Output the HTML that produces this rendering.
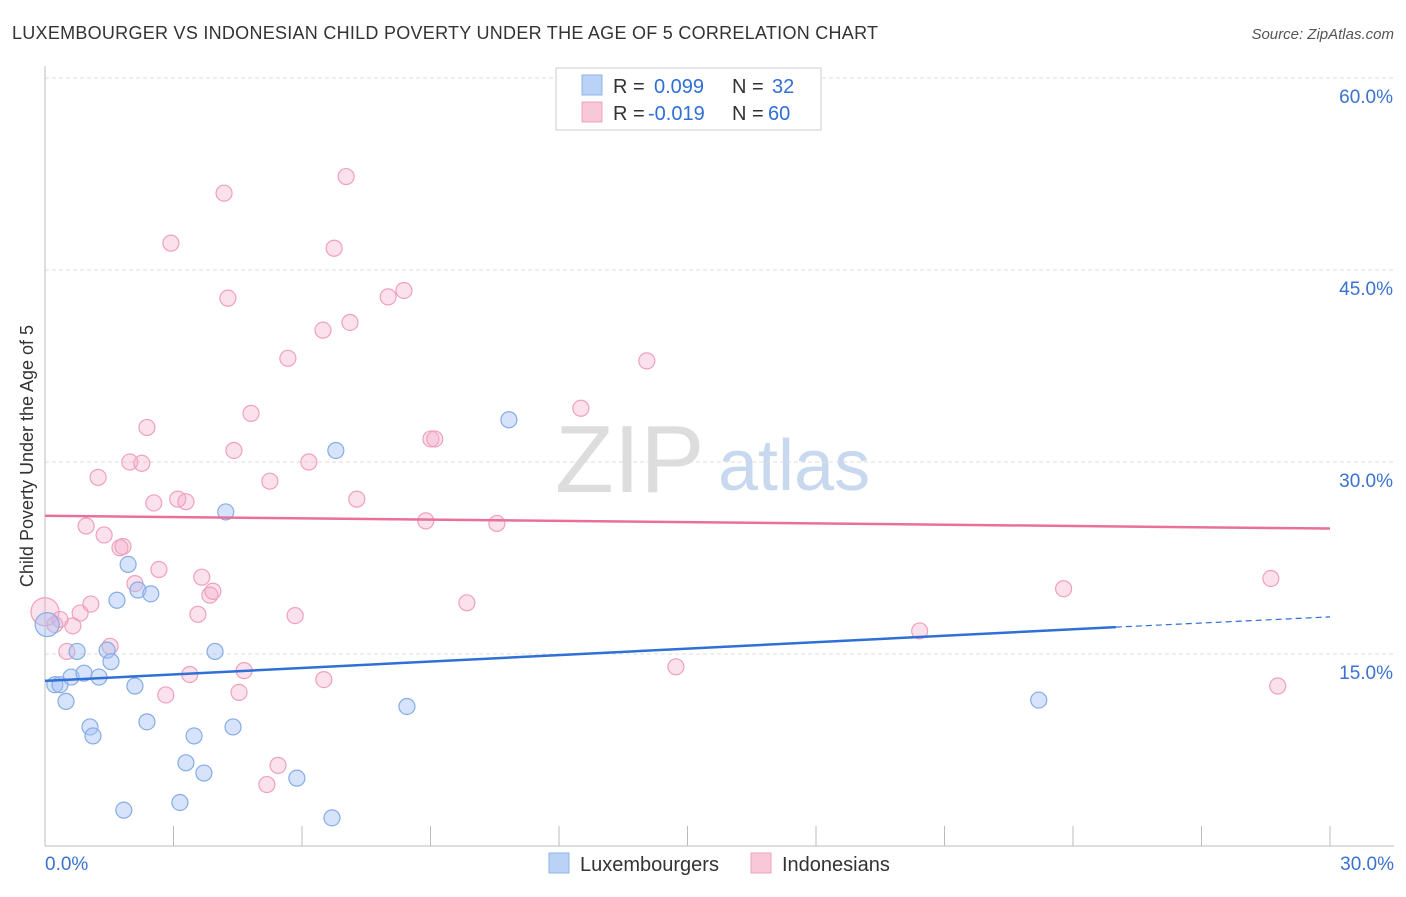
<!DOCTYPE html>
<html><head><meta charset="utf-8"><style>
body{margin:0;background:#fff;font-family:"Liberation Sans",sans-serif;}
svg text{font-family:"Liberation Sans",sans-serif;}
</style></head><body>
<svg id="chart" width="1406" height="892">
<text x="12" y="39" font-size="18" fill="#333" letter-spacing="0.27">LUXEMBOURGER VS INDONESIAN CHILD POVERTY UNDER THE AGE OF 5 CORRELATION CHART</text>
<text x="1394" y="39" font-size="15" fill="#555" font-style="italic" text-anchor="end">Source: ZipAtlas.com</text>
<text x="33" y="456" font-size="18" fill="#333" text-anchor="middle" transform="rotate(-90 33 456)">Child Poverty Under the Age of 5</text>
<text x="555" y="492" font-size="96" fill="#ddd" font-family="Liberation Serif">ZIP</text>
<text x="718" y="490" font-size="72" fill="#c8d8ef">atlas</text>
<g id="grid"></g><g id="pts"></g><g id="lines"></g>
<g>
<rect x="556" y="68" width="265" height="62" fill="#fff" stroke="#ccc"/>
<rect x="582" y="75" width="20" height="20" fill="#b9d2f5" stroke="#8fb3e8"/>
<rect x="582" y="102" width="20" height="20" fill="#f9c8d8" stroke="#f0a0bd"/>
<text x="613" y="93" font-size="20" fill="#333">R = <tspan x="654" fill="#2f6fd6">0.099</tspan><tspan x="732">N = </tspan><tspan x="772" fill="#2f6fd6">32</tspan></text>
<text x="613" y="120" font-size="20" fill="#333">R = <tspan x="648" fill="#2f6fd6">-0.019</tspan><tspan x="732">N = </tspan><tspan x="768" fill="#2f6fd6">60</tspan></text>
</g>
<g>
<rect x="549" y="853" width="20" height="20" fill="#b9d2f5" stroke="#8fb3e8"/>
<text x="580" y="871" font-size="20" fill="#333">Luxembourgers</text>
<rect x="751" y="853" width="20" height="20" fill="#f9c8d8" stroke="#f0a0bd"/>
<text x="782" y="871" font-size="20" fill="#333">Indonesians</text>
</g>
</svg>
<script>
const blueX=[0.05,0.23,0.35,0.49,0.61,0.75,0.91,1.05,1.12,1.26,1.45,1.54,1.68,1.84,1.94,2.1,2.17,2.38,2.47,3.15,3.29,3.48,3.71,3.97,4.22,4.39,5.88,6.7,6.79,8.45,10.83,23.2];
const blueY=[17.3,12.6,12.6,11.3,13.2,15.2,13.5,9.3,8.6,13.2,15.3,14.4,19.2,2.8,22.0,12.5,20.0,9.7,19.7,3.4,6.5,8.6,5.7,15.2,26.1,9.3,5.3,2.2,30.9,10.9,33.3,11.4];
const pinkX=[0,0.23,0.35,0.51,0.65,0.82,0.96,1.07,1.24,1.38,1.52,1.75,1.82,1.98,2.1,2.26,2.38,2.54,2.66,2.82,2.94,3.1,3.29,3.38,3.57,3.66,3.85,3.92,4.18,4.27,4.41,4.53,4.65,4.81,5.25,5.44,5.18,5.67,5.84,6.16,6.49,6.51,6.75,7.03,7.12,7.28,8.01,8.38,8.89,9.01,9.1,9.85,10.55,12.51,14.05,14.73,20.42,23.78,28.62,28.78];
const pinkY=[18.3,17.3,17.7,15.2,17.2,18.2,25.0,18.9,28.8,24.3,15.6,23.3,23.4,30.0,20.5,29.9,32.7,26.8,21.6,11.8,47.1,27.1,26.9,13.4,18.1,21.0,19.6,19.9,51.0,42.8,30.9,12.0,13.7,33.8,28.5,6.3,4.8,38.1,18.0,30.0,40.3,13.0,46.7,52.3,40.9,27.1,42.9,43.4,25.4,31.8,31.8,19.0,25.2,34.2,37.9,14.0,16.8,20.1,20.9,12.5];
const blueLine=[0,12.9,25,17.1,30,17.9];
const pinkLine=[0,25.8,30,24.8];
const yTicks=[15,30,45,60];
const X=v=>45+v/30*1285, Y=v=>846-v/15*192;
const NS='http://www.w3.org/2000/svg';
function mk(tag,attrs,parent){const e=document.createElementNS(NS,tag);for(const k in attrs)e.setAttribute(k,attrs[k]);parent.appendChild(e);return e;}
const grid=document.getElementById('grid'),pts=document.getElementById('pts'),lines=document.getElementById('lines');
yTicks.forEach(t=>{
 const l=mk('line',{x1:45,x2:1394,y1:Y(t),y2:Y(t),stroke:'#ddd','stroke-dasharray':'4 3'},grid);
 
 
 const tx=mk('text',{x:1393,y:Y(t)+25,'font-size':19,fill:'#3a72d0','text-anchor':'end'},grid);
 tx.textContent=t.toFixed(1)+'%';
 
 
});
const ax=mk('line',{x1:45,x2:45,y1:66,y2:846,stroke:'#bbb'},grid);


const bx=mk('line',{x1:45,x2:1394,y1:846,y2:846,stroke:'#bbb'},grid);


for(let i=0;i<=10;i++){const t=mk('line',{x1:X(i*3),x2:X(i*3),y1:826,y2:846,stroke:'#bbb'},grid);
 
 }
[[0,'0.0%',45,'start'],[30,'30.0%',1394,'end']].forEach(a=>{const t=mk('text',{x:a[2],y:870,'font-size':19,fill:'#3a72d0','text-anchor':a[3]},grid);t.textContent=a[1];
 
 });
pinkX.forEach((v,i)=>{const c=mk('circle',{cx:X(v),cy:Y(pinkY[i]),r:i==0?14:8,fill:'rgba(244,170,200,0.35)',stroke:'#f0a0bd','stroke-width':1.2},pts);
 
 });
blueX.forEach((v,i)=>{const c=mk('circle',{cx:X(v),cy:Y(blueY[i]),r:i==0?12:8,fill:'rgba(164,194,244,0.45)',stroke:'#86ace6','stroke-width':1.2},pts);
 
 });
const b1=mk('line',{x1:X(blueLine[0]),y1:Y(blueLine[1]),x2:X(blueLine[2]),y2:Y(blueLine[3]),stroke:'#2f6fd6','stroke-width':2.5},lines);


const b2=mk('line',{x1:X(blueLine[2]),y1:Y(blueLine[3]),x2:X(blueLine[4]),y2:Y(blueLine[5]),stroke:'#2f6fd6','stroke-width':1.2,'stroke-dasharray':'6 4'},lines);


const p1=mk('line',{x1:X(pinkLine[0]),y1:Y(pinkLine[1]),x2:X(pinkLine[2]),y2:Y(pinkLine[3]),stroke:'#e8719a','stroke-width':2.5},lines);


</script>
</body></html>
